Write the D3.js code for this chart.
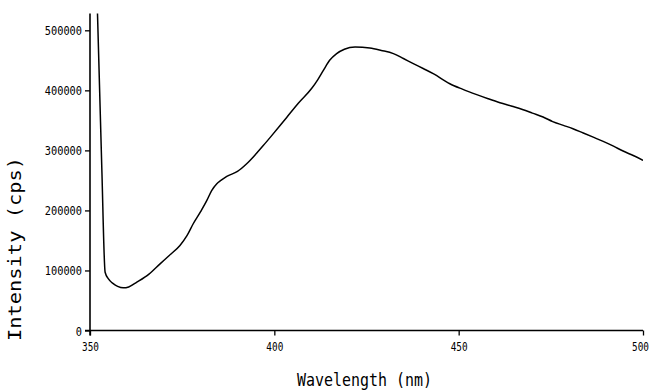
<!DOCTYPE html>
<html><head><meta charset="utf-8">
<script src="https://cdn.jsdelivr.net/npm/d3@7"></script>
<style>body{margin:0;background:#fff}svg{display:block}</style>
</head><body>
<script>
const wavelength = [352.0,353.2,354.1,355.0,356.3,357.5,359.0,360.5,362.7,366.0,369.0,371.5,374.4,376.3,378.0,380.0,381.7,383.0,384.4,385.5,387.1,390.0,392.5,395.0,397.0,399.0,401.5,403.3,406.5,410.1,411.8,413.3,415.0,416.9,419.0,421.9,425.9,429.0,432.3,435.0,437.7,440.5,443.1,447.6,451.0,454.9,458.0,461.2,464.5,467.5,470.0,472.9,475.5,478.4,481.0,483.8,486.5,489.2,492.0,494.6,497.5,500.0];
const intensity = [535000,271000,97000,86000,78000,73500,71000,72500,80500,94000,111000,125000,141700,158000,177800,198000,216700,233000,244500,250000,256700,265000,277800,294000,308000,322500,341000,354500,378500,403000,418000,433300,450000,461200,468500,472200,470500,466500,461200,453000,444500,436000,427800,411000,402000,392800,386000,379400,373500,367800,362000,355500,348000,341700,336000,328900,322000,315000,307000,298900,291000,283300];
const xTicks = [350,400,450,500];
const yTicks = [0,100000,200000,300000,400000,500000];
const xTitle = "Wavelength (nm)";
const yTitle = "Intensity (cps)";

const W = 653, H = 390;
const L = 90, R = 643, T = 13.5, B = 330.5;
const svg = d3.select("body").append("svg").attr("width", W).attr("height", H);
const x = d3.scaleLinear().domain([350,500]).range([L,R]);
const y = d3.scaleLinear().domain([0,528000]).range([B,T]);
const font = "'DejaVu Sans Mono', monospace";

svg.append("clipPath").attr("id","c").append("rect").attr("x",L).attr("y",T).attr("width",R-L).attr("height",B-T);

// axes
const yAx = svg.append("g").attr("transform",`translate(${L},0)`)
  .call(d3.axisLeft(y).tickValues(yTicks).tickSize(5).tickFormat(d3.format("d")));
const xAx = svg.append("g").attr("transform",`translate(0,${B})`)
  .call(d3.axisBottom(x).tickValues(xTicks).tickSize(5).tickFormat(d3.format("d")));
[yAx,xAx].forEach(g=>{
  g.select(".domain").remove();
  g.selectAll("line").attr("stroke","#000").attr("stroke-width",1.3);
});
svg.append("line").attr("x1",L).attr("x2",L).attr("y1",T).attr("y2",B+5).attr("stroke","#000").attr("stroke-width",1.6);
svg.append("line").attr("x1",L-5).attr("x2",R).attr("y1",B).attr("y2",B).attr("stroke","#000").attr("stroke-width",1.6);

yAx.selectAll("text").attr("font-family",font).attr("font-size",12.5).attr("fill","#000")
  .attr("x",-8).attr("dy","0.36em")
  .attr("textLength",function(){return this.textContent.length*6.2;})
  .attr("lengthAdjust","spacingAndGlyphs");
xAx.selectAll("text").attr("font-family",font).attr("font-size",12.5).attr("fill","#000")
  .attr("x",0).attr("y",11).attr("dy","0.75em")
  .attr("transform",d=>`translate(${d===500?-3:0},0) scale(0.75,1)`);

svg.append("text").attr("x",364.5).attr("y",386).attr("text-anchor","middle")
  .attr("font-family",font).attr("font-size",17).attr("fill","#000")
  .attr("textLength",135).attr("lengthAdjust","spacingAndGlyphs").text(xTitle);
svg.append("text").attr("transform","translate(21,249) rotate(-90)").attr("text-anchor","middle")
  .attr("font-family",font).attr("font-size",18).attr("fill","#000")
  .attr("textLength",184).attr("lengthAdjust","spacingAndGlyphs").text(yTitle);

const line = d3.line().x((d,i)=>x(wavelength[i])).y(d=>y(d)).curve(d3.curveMonotoneX);
svg.append("path").datum(intensity).attr("clip-path","url(#c)")
  .attr("fill","none").attr("stroke","#000").attr("stroke-width",1.5).attr("d",line);
</script>
</body></html>
